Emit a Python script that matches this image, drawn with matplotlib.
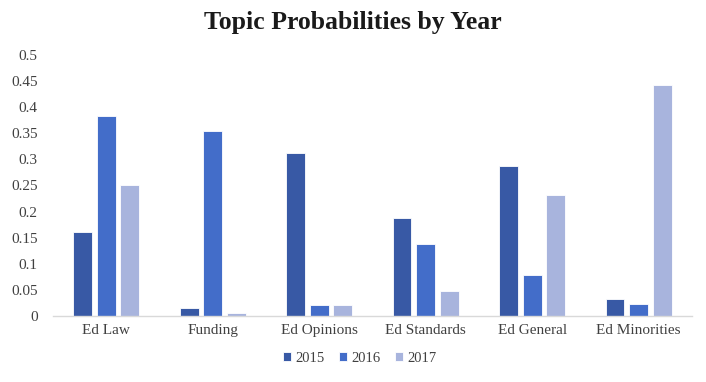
import matplotlib
matplotlib.use("Agg")
import matplotlib.pyplot as plt
import numpy as np

categories = ["Ed Law", "Funding", "Ed Opinions", "Ed Standards", "Ed General", "Ed Minorities"]
years = ["2015", "2016", "2017"]
v2015 = [0.161, 0.015, 0.313, 0.188, 0.287, 0.033]
v2016 = [0.384, 0.355, 0.020, 0.138, 0.079, 0.022]
v2017 = [0.250, 0.005, 0.020, 0.047, 0.232, 0.442]
colors = ["#3859A5", "#436DC9", "#A8B4DD"]

plt.rcParams['font.family'] = ['Liberation Serif', 'DejaVu Serif']

fig = plt.figure(figsize=(7.06, 3.82), dpi=100)
ax = fig.add_axes([0.075, 0.173, 0.905, 0.683])

x = np.arange(len(categories))
step = 0.222
width = 0.178
for i, (vals, c, lab) in enumerate(zip([v2015, v2016, v2017], colors, years)):
    ax.bar(x + (i - 1) * step, vals, width=width, color=c, edgecolor="white",
           linewidth=0.6, label=lab)

ax.set_xlim(-0.5, len(categories) - 0.5)
ax.set_ylim(0, 0.5)
yt = np.arange(0, 0.5001, 0.05)
ax.set_yticks(yt)
ax.set_yticklabels(["0"] + [("%.2f" % v).rstrip("0") for v in yt[1:]])
ax.set_xticks(x)
ax.set_xticklabels(categories)
ax.tick_params(axis="both", length=0, labelsize=11, colors="#404040")
ax.tick_params(axis="y", pad=11)
ax.tick_params(axis="x", pad=6)
for s in ["top", "right", "left"]:
    ax.spines[s].set_visible(False)
ax.spines["bottom"].set_color("#D9D9D9")
ax.spines["bottom"].set_linewidth(1)

fig.text(0.5, 0.942, "Topic Probabilities by Year", ha="center", va="center",
         fontsize=18.5, fontweight="bold", color="#1a1a1a")

fig.legend(loc="center", bbox_to_anchor=(0.51, 0.062), ncol=3, frameon=False,
           fontsize=10.5, handlelength=0.55, handleheight=0.55, handletextpad=0.3,
           columnspacing=1.0, labelcolor="#404040")

fig.savefig("out.png", dpi=100)
